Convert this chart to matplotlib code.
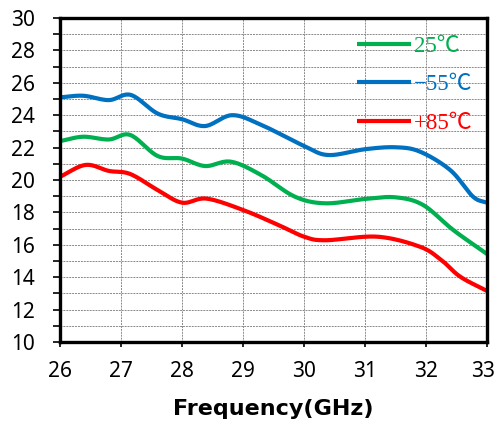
import numpy as np
import matplotlib.pyplot as plt
import matplotlib.transforms as mtransforms
from matplotlib.ticker import MultipleLocator

# gain vs frequency at three temperatures
f_25 = [26.0, 26.38, 26.8, 27.15, 27.6, 28.0, 28.38, 28.8, 29.3, 29.85, 30.35, 31.0, 31.5, 31.95, 32.45, 33.0]
g_25 = [22.4, 22.67, 22.5, 22.78, 21.48, 21.32, 20.86, 21.13, 20.3, 18.97, 18.56, 18.83, 18.93, 18.46, 16.9, 15.43]

f_m55 = [26.0, 26.38, 26.8, 27.16, 27.6, 28.0, 28.38, 28.82, 29.3, 30.0, 30.4, 31.0, 31.5, 31.9, 32.4, 32.77, 33.0]
g_m55 = [25.1, 25.2, 24.93, 25.25, 24.1, 23.75, 23.33, 24.0, 23.4, 22.1, 21.54, 21.9, 22.02, 21.75, 20.6, 18.97, 18.6]

f_85 = [26.0, 26.42, 26.8, 27.15, 27.6, 28.0, 28.4, 29.0, 29.58, 30.0, 30.35, 31.2, 31.9, 32.25, 32.56, 33.0]
g_85 = [20.2, 20.93, 20.56, 20.37, 19.38, 18.6, 18.85, 18.15, 17.22, 16.5, 16.28, 16.5, 15.88, 15.06, 14.03, 13.15]

labels = ['25℃', '−55℃', '+85℃']
colors = ['#00B050', '#0070C0', '#FF0000']


def smooth(x, y, n=20):
    # Catmull-Rom spline through the points (like a smoothed line in Excel)
    p = np.column_stack([x, y]).astype(float)
    p = np.vstack([2 * p[0] - p[1], p, 2 * p[-1] - p[-2]])
    out = []
    t = np.linspace(0, 1, n, endpoint=False)[:, None]
    for i in range(1, len(p) - 2):
        p0, p1, p2, p3 = p[i - 1], p[i], p[i + 1], p[i + 2]
        seg = 0.5 * ((2 * p1) + (-p0 + p2) * t + (2 * p0 - 5 * p1 + 4 * p2 - p3) * t ** 2
                     + (-p0 + 3 * p1 - 3 * p2 + p3) * t ** 3)
        out.append(seg)
    out.append(p[-2][None, :])
    out = np.vstack(out)
    return out[:, 0], out[:, 1]


fig = plt.figure(figsize=(4.96, 4.23), dpi=100)
ax = fig.add_axes([0.121, 0.1915, 0.861, 0.766])

for f, g, lab, c in zip([f_25, f_m55, f_85], [g_25, g_m55, g_85], labels, colors):
    xs, ys = smooth(f, g)
    ax.plot(xs, ys, color=c, lw=3, label=lab, solid_capstyle='butt')

ax.set_xlim(26, 33)
ax.set_ylim(10, 30)
ax.xaxis.set_major_locator(MultipleLocator(1))
ax.yaxis.set_major_locator(MultipleLocator(2))
ax.yaxis.set_minor_locator(MultipleLocator(1))

ax.grid(True, which='both', color='#8a8a8a', linestyle=(0, (2, 1)), lw=0.7)
ax.set_axisbelow(True)

for s in ax.spines.values():
    s.set_linewidth(2.4)
    s.set_color('black')

ax.tick_params(axis='both', which='major', labelsize=15, width=1.2, direction='out')
ax.tick_params(axis='y', which='both', length=5, width=1.2, pad=13)
ax.tick_params(axis='x', length=3.6, pad=10)

ax.set_xlabel('Frequency(GHz)', fontsize=16, fontweight='bold', labelpad=12)

leg = ax.legend(loc='upper left', bbox_to_anchor=(0.6956, 0.944), frameon=False,
                prop={'family': ['Liberation Serif', 'Noto Sans CJK JP'], 'size': 16.5},
                handlelength=2.35, handletextpad=0.15, labelspacing=0.75,
                borderpad=0, borderaxespad=0)
for txt, c in zip(leg.get_texts(), colors):
    txt.set_color(c)

fig.canvas.draw()
for lbl in ax.get_xticklabels() + ax.get_yticklabels():
    lbl.set_family('Noto Sans')

# keep the last x label inside the figure edge
last = [t for t in ax.get_xticklabels() if t.get_text() == '33'][0]
last.set_transform(last.get_transform() +
                   mtransforms.ScaledTranslation(-4 / 100, 0, fig.dpi_scale_trans))

fig.savefig('out.png', dpi=100)
